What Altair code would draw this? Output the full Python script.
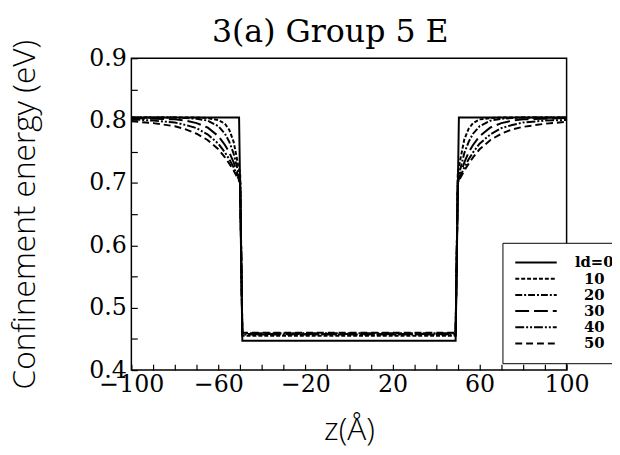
import altair as alt
import pandas as pd

# ---- data ----
ld_labels = ["ld=0", "10", "20", "30", "40", "50"]
ld_dashes = [[1, 0], [4, 2], [7, 2, 2, 2], [14, 5], [9, 2, 2, 2, 2, 2], [7, 4]]

# abrupt (ld=0) square well
ld0_z = [-100, -50.5, -49, 49, 50.5, 100]
ld0_e = [0.805, 0.805, 0.447, 0.447, 0.805, 0.805]

# graded interfaces: left barrier, well floor, right barrier
z_left = [-100, -90, -80, -75, -70, -65, -60, -57, -55, -53, -51, -50]
z_well = [-49, 49]
z_right = [50, 51, 53, 55, 57, 60, 65, 70, 75, 80, 90, 100]

e_left_10 = [0.805, 0.805, 0.805, 0.805, 0.805, 0.804, 0.801, 0.795, 0.785, 0.766, 0.730, 0.715]
e_left_20 = [0.805, 0.805, 0.805, 0.804, 0.803, 0.800, 0.791, 0.779, 0.766, 0.747, 0.719, 0.705]
e_left_30 = [0.804, 0.803, 0.802, 0.800, 0.796, 0.789, 0.775, 0.761, 0.749, 0.733, 0.712, 0.700]
e_left_40 = [0.802, 0.800, 0.797, 0.793, 0.788, 0.778, 0.763, 0.749, 0.738, 0.725, 0.709, 0.700]
e_left_50 = [0.799, 0.796, 0.791, 0.786, 0.779, 0.769, 0.754, 0.741, 0.731, 0.720, 0.707, 0.700]

e_well_10 = 0.455
e_well_20 = 0.457
e_well_30 = 0.458
e_well_40 = 0.459
e_well_50 = 0.460

e_right_10 = [0.715, 0.735, 0.770, 0.787, 0.796, 0.802, 0.804, 0.805, 0.805, 0.805, 0.805, 0.805]
e_right_20 = [0.705, 0.720, 0.748, 0.766, 0.779, 0.791, 0.800, 0.803, 0.804, 0.805, 0.805, 0.805]
e_right_30 = [0.700, 0.712, 0.733, 0.749, 0.761, 0.775, 0.789, 0.796, 0.800, 0.802, 0.803, 0.804]
e_right_40 = [0.700, 0.709, 0.725, 0.738, 0.749, 0.763, 0.778, 0.788, 0.793, 0.797, 0.800, 0.801]
e_right_50 = [0.700, 0.707, 0.720, 0.731, 0.741, 0.754, 0.769, 0.779, 0.786, 0.790, 0.795, 0.798]

# axis ticks every 10 Å / 0.05 eV, labels on every 40 Å / 0.1 eV
x_tick_values = [-100, -90, -80, -70, -60, -50, -40, -30, -20, -10, 0,
                 10, 20, 30, 40, 50, 60, 70, 80, 90, 100]
y_tick_values = [0.4, 0.45, 0.5, 0.55, 0.6, 0.65, 0.7, 0.75, 0.8, 0.85, 0.9]

# ---- build table ----
rows = []
for i, (z, e) in enumerate(zip(ld0_z, ld0_e)):
    rows.append({"ld": "ld=0", "z": z, "E": e, "i": i})

graded = [
    ("10", e_left_10, e_well_10, e_right_10),
    ("20", e_left_20, e_well_20, e_right_20),
    ("30", e_left_30, e_well_30, e_right_30),
    ("40", e_left_40, e_well_40, e_right_40),
    ("50", e_left_50, e_well_50, e_right_50),
]
for name, el, ew, er in graded:
    zs = z_left + z_well + z_right
    es = el + [ew, ew] + er
    for i, (z, e) in enumerate(zip(zs, es)):
        rows.append({"ld": name, "z": z, "E": e, "i": i})

df = pd.DataFrame(rows)

W, H = 441, 316
serif = "DejaVu Serif"
sans = "Open Sans"

xscale = alt.Scale(domain=[-100, 100], nice=False, zero=False)
yscale = alt.Scale(domain=[0.4, 0.9], nice=False, zero=False)

# negative tick size (given as an expression) draws the ticks inward
xaxis = alt.Axis(
    values=x_tick_values,
    labelExpr="abs(datum.value % 40) == 20 ? datum.label : ''",
    title="z(Å)", ticks=True, tickSize=alt.ExprRef("-6"), tickColor="black",
    tickWidth=1.2, domain=False, grid=False,
    labelFont=serif, labelFontSize=24, labelColor="black", labelPadding=9,
    labelFlush=False, labelOverlap=False,
    titleFont=sans, titleFontSize=32, titleFontWeight=300, titleColor="black",
    titlePadding=18)
yaxis = alt.Axis(
    values=y_tick_values, format=".2f",
    labelExpr="abs(datum.value * 10 - round(datum.value * 10)) < 0.001 ? format(datum.value, '.1f') : ''",
    title="Confinement energy (eV)",
    ticks=True, tickSize=alt.ExprRef("-6"), tickColor="black", tickWidth=1.2,
    domain=False, grid=False,
    labelFont=serif, labelFontSize=24, labelColor="black", labelPadding=11,
    labelFlush=False, labelOverlap=False,
    titleFont=sans, titleFontSize=32, titleFontWeight=300, titleColor="black",
    titlePadding=48)

chart = alt.Chart(df).mark_line(strokeWidth=2, color="black", clip=True).encode(
    x=alt.X("z:Q", scale=xscale, axis=xaxis, title="z(Å)"),
    y=alt.Y("E:Q", scale=yscale, axis=yaxis, title="Confinement energy (eV)"),
    strokeDash=alt.StrokeDash("ld:N", scale=alt.Scale(domain=ld_labels, range=ld_dashes),
        legend=alt.Legend(title=None, orient="none", legendX=376, legendY=187,
            strokeColor="black", fillColor="white", padding=12,
            symbolType="stroke", symbolSize=1764, symbolStrokeWidth=2,
            symbolStrokeColor="black", clipHeight=16, rowPadding=0.4,
            labelFont=serif, labelFontWeight="bold", labelFontSize=15,
            labelAlign="center", labelOffset=37, labelColor="black")),
    order="i:Q",
).properties(
    width=W, height=H,
    padding={"left": 125, "top": 48, "right": 46, "bottom": 75},
    autosize=alt.AutoSizeParams(type="none"),
    title=alt.TitleParams("3(a) Group 5 E", font=serif, fontSize=32, fontWeight="normal",
                          color="black", anchor="middle", dx=-19, offset=-10, frame="group"),
).configure_view(stroke="black", strokeWidth=1.5)

chart.save("out.html", embed_options={"renderer": "svg", "actions": False})
